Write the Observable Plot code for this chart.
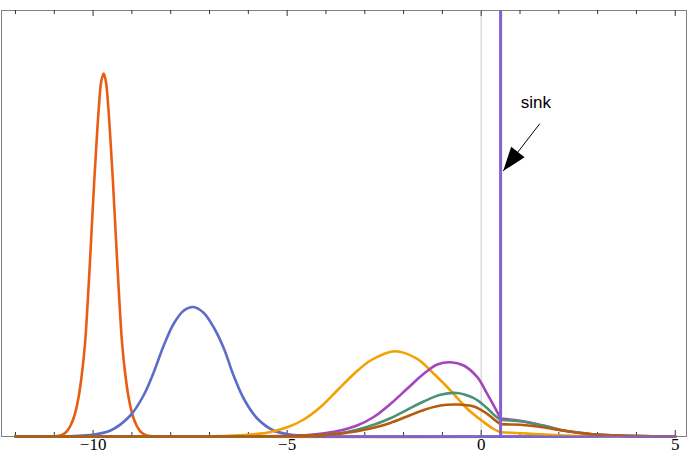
<!DOCTYPE html>
<html><head><meta charset="utf-8">
<script src="https://cdn.jsdelivr.net/npm/d3@7"></script>
<script src="https://cdn.jsdelivr.net/npm/@observablehq/plot@0.6"></script>
<style>
html,body{margin:0;padding:0;background:#fff;}
#chart{width:689px;height:463px;}
</style></head><body><div id="chart"></div>
<script>
// ---- axes ----
const xDomain = [-12.36, 5.29];
const yDomain = [0, 426];
const majorTicks = [-10, -5, 0, 5];
const tickLabels = ["\u221210", "\u22125", "0", "5"];
const minorTicks = [-12, -11, -9, -8, -7, -6, -4, -3, -2, -1, 1, 2, 3, 4];
const zeroLineX = [0];
const sinkX = [0.5];
const sinkBase = [[-4, 0], [5, 0]];

// ---- series (x, height) ----
const seriesNames = ["s1", "s2", "s3", "s4", "s5", "s6"];
const seriesColors = ["#E85D12", "#5B6DC8", "#F2A100", "#A445BD", "#4A9276", "#B65A0C"];

const s1Left = [[-12,0],[-11.3,0],[-10.93,0.5],[-10.78,2.2],[-10.68,5],[-10.58,11],[-10.48,21],[-10.38,38],[-10.29,62],[-10.21,92],[-10.15,127],[-10.09,168],[-10.03,212],[-9.97,256],[-9.91,295],[-9.85,330],[-9.79,355],[-9.727,363],[-9.67,355],[-9.61,330],[-9.55,295],[-9.49,256],[-9.43,212],[-9.37,168],[-9.31,127],[-9.25,92],[-9.17,62],[-9.08,38],[-8.98,21],[-8.88,11],[-8.78,5],[-8.68,2.2],[-8.53,0.5],[-8.2,0],[5,0]];
const s1Right = [];

const s2Left = [[-12,0],[-11,0],[-10.6,0.3],[-10.1,1.4],[-9.55,6],[-9.04,21],[-8.70,41],[-8.44,64],[-8.18,91],[-7.92,113],[-7.66,126],[-7.42,129.5],[-7.16,124],[-6.89,109],[-6.63,88],[-6.38,61],[-6.12,38],[-5.77,18],[-5.35,6],[-5.0,2.5],[-4.6,0.8],[-4.1,0.2],[-3.5,0],[5,0]];
const s2Right = [];

const s3Left = [[-12,0],[-8,0],[-7.2,0.2],[-6.5,0.8],[-6.0,1.8],[-5.69,2.9],[-5.43,4.6],[-5.0,9.2],[-4.57,17],[-4.14,29.5],[-3.71,46],[-3.28,62.5],[-2.85,76],[-2.235,85.3],[-1.65,77.7],[-1.22,62.7],[-0.79,46],[-0.36,27.7],[0.067,14.3],[0.3,8.0],[0.5,4.3]];
const s3Right = [[0.5,4.3],[1.0,3.3],[1.5,2.2],[2.0,1.3],[2.6,0.5],[3.3,0.1],[4,0],[5,0]];

const s4Left = [[-12,0],[-6,0],[-5.2,0.4],[-4.4,1.8],[-4.0,3.5],[-3.63,6],[-3.2,11],[-2.77,19.5],[-2.34,32.5],[-1.91,47.7],[-1.48,62.7],[-1.13,72],[-0.79,74.3],[-0.45,71],[-0.10,59.3],[0.155,42.7],[0.37,27.7],[0.5,18]];
const s4Right = [[0.5,18],[0.75,17],[1.0,15.8],[1.45,12.3],[1.7,10],[2.05,6.5],[2.5,3.8],[2.95,1.9],[3.57,0.8],[4.4,0.2],[5,0]];

const s5Left = [[-12,0],[-6,0],[-5.2,0.3],[-4.3,1.3],[-3.62,3.5],[-3.2,6.8],[-2.77,11.7],[-2.34,18.3],[-1.91,26.7],[-1.48,35],[-1.05,41.7],[-0.62,43.5],[-0.19,38.3],[0.155,28.3],[0.35,21],[0.5,16.5]];
const s5Right = [[0.5,16.5],[0.75,16],[1.0,15.3],[1.45,12],[1.7,10],[2.05,6.5],[2.5,4],[2.95,2],[3.57,0.9],[4.4,0.2],[5,0]];

const s6Left = [[-12,0],[-6,0],[-5.2,0.2],[-4.4,1.0],[-3.62,2.9],[-3.2,5.2],[-2.77,8.7],[-2.34,13.6],[-1.91,20],[-1.48,26.5],[-1.05,31],[-0.62,32],[-0.19,30],[0.155,22.7],[0.35,16.5],[0.5,12.2]];
const s6Right = [[0.5,12.2],[0.75,12],[1.0,11.7],[1.45,10],[1.7,8.5],[2.05,6.2],[2.5,3.8],[2.95,2],[3.57,0.9],[4.4,0.2],[5,0]];

const seriesParts = [[s1Left, s1Right], [s2Left, s2Right], [s3Left, s3Right], [s4Left, s4Right], [s5Left, s5Right], [s6Left, s6Right]];

// ---- annotation ----
const sinkLabel = [{x: 1.41, y: 328.8, text: "sink"}];
const arrowTail = {x: 1.51, y: 312.8};
const arrowTip = {x: 0.567, y: 265.5};

// ---- layout ----
const W = 689, H = 463;
const M = {left: 1, right: 3, top: 10, bottom: 27};
const sinkColor = "#8460D0";

const pxPerX = (W - M.left - M.right) / (xDomain[1] - xDomain[0]);
const pxPerY = (H - M.top - M.bottom) / (yDomain[1] - yDomain[0]);
const adx = (arrowTip.x - arrowTail.x) * pxPerX;
const ady = -(arrowTip.y - arrowTail.y) * pxPerY;
const arrowAngle = Math.atan2(adx, -ady) * 180 / Math.PI;
const arrowHead = {draw(ctx) { ctx.moveTo(0, 0); ctx.lineTo(-8.5, 24); ctx.lineTo(8.5, 24); ctx.closePath(); }};

const curveMarks = [];
seriesParts.forEach((parts, i) => {
  parts.forEach(p => {
    if (p.length) curveMarks.push(Plot.line(p, {x: d => d[0], y: d => d[1], stroke: seriesColors[i], strokeWidth: 2.6, curve: "catmull-rom"}));
  });
});

const chart = Plot.plot({
  width: W, height: H,
  marginLeft: M.left, marginRight: M.right, marginTop: M.top, marginBottom: M.bottom,
  x: {domain: xDomain, axis: null},
  y: {domain: yDomain, axis: null},
  style: {fontFamily: "'Liberation Serif', 'Times New Roman', serif", fontSize: "17px", background: "white"},
  marks: [
    Plot.frame({stroke: "#808080", strokeWidth: 1}),
    Plot.ruleX(zeroLineX, {x: d => d, stroke: "#dcdcdc", strokeWidth: 1.5}),
    Plot.ruleX(majorTicks, {x: d => d, y1: 0, y2: 6, stroke: "#333", strokeWidth: 1}),
    Plot.ruleX(minorTicks, {x: d => d, y1: 0, y2: 4, stroke: "#333", strokeWidth: 1}),
    Plot.ruleX(majorTicks, {x: d => d, y1: yDomain[1], y2: yDomain[1] - 6, stroke: "#333", strokeWidth: 1}),
    Plot.ruleX(minorTicks, {x: d => d, y1: yDomain[1], y2: yDomain[1] - 4, stroke: "#333", strokeWidth: 1}),
    ...curveMarks,
    Plot.line(sinkBase, {x: d => d[0], y: d => d[1], stroke: sinkColor, strokeWidth: 2}),
    Plot.ruleX(sinkX, {x: d => d, stroke: sinkColor, strokeWidth: 3}),
    Plot.text(majorTicks, {x: d => d, y: yDomain[0], dy: 1, lineAnchor: "top", textAnchor: "middle", text: (d, i) => tickLabels[i], fontSize: 17, fontFamily: "'Liberation Serif', 'Times New Roman', serif", fill: "black"}),
    Plot.link([0], {x1: () => arrowTail.x, y1: () => arrowTail.y, x2: () => arrowTip.x, y2: () => arrowTip.y, stroke: "black", strokeWidth: 1}),
    Plot.dot([arrowTip], {x: "x", y: "y", symbol: arrowHead, fill: "black", stroke: "none", rotate: arrowAngle, r: 5}),
    Plot.text(sinkLabel, {x: "x", y: "y", text: "text", fontSize: 17, fontFamily: "'Liberation Sans', Arial, sans-serif", lineAnchor: "bottom", textAnchor: "middle", fill: "black"})
  ]
});
document.getElementById("chart").appendChild(chart);
</script>
</body></html>
